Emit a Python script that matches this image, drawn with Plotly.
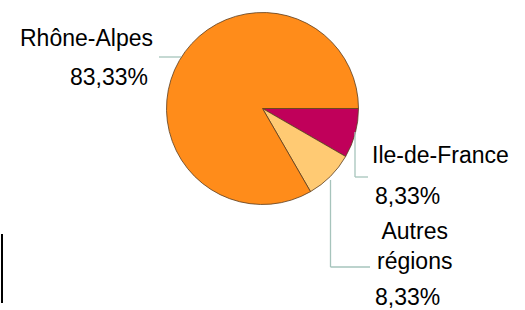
import plotly.graph_objects as go

# Data
regions = ["Ile-de-France", "Autres régions", "Rhône-Alpes"]
region_text = ["Ile-de-France", "Autres<br>régions", "Rhône-Alpes"]
shares = [1, 1, 10]
share_labels = ["8,33%", "8,33%", "83,33%"]
colors = ["#C0005A", "#FFCA73", "#FF8C1A"]

W, H = 525, 310
cx, cy, r = 262.5, 108.5, 96

def px(x):
    return x / W

def py(y):
    return 1 - y / H

fig = go.Figure(go.Pie(
    labels=regions,
    values=shares,
    sort=False,
    direction="clockwise",
    rotation=90,
    marker=dict(colors=colors, line=dict(color="#5a3c1e", width=0.8)),
    textinfo="none",
    hoverinfo="label+percent",
    showlegend=False,
    domain=dict(x=[px(cx - r), px(cx + r)], y=[py(cy + r), py(cy - r)]),
))

font = dict(family="Liberation Sans, Arial, sans-serif", size=23, color="black")

# label positions (pixel centres)
name_pos = [(440, 155), (414, 246), (86, 38)]
pct_pos = [(407, 196), (407, 297), (109, 77)]

ann = []
for i in range(len(regions)):
    ann.append(dict(x=px(name_pos[i][0]), y=py(name_pos[i][1]), xref="paper", yref="paper",
                    text=region_text[i], showarrow=False, font=font, borderpad=0,
                    xanchor="center", yanchor="middle", align="center"))
    ann.append(dict(x=px(pct_pos[i][0]), y=py(pct_pos[i][1]), xref="paper", yref="paper",
                    text=share_labels[i], showarrow=False, font=font, borderpad=0,
                    xanchor="center", yanchor="middle"))

lc = "#A6C4BC"
def seg(x0, y0, x1, y1, color=lc, width=1.3):
    return dict(type="line", xref="paper", yref="paper",
                x0=px(x0), y0=py(y0), x1=px(x1), y1=py(y1),
                line=dict(color=color, width=width))

shapes = [
    seg(159, 57, 181, 57),
    seg(355, 132, 355, 177),
    seg(355, 177, 368, 177),
    seg(330.5, 180, 330.5, 267),
    seg(330.5, 267, 370, 267),
    seg(2, 234, 2, 303, color="black", width=2),
]

fig.update_layout(
    width=W, height=H,
    margin=dict(l=0, r=0, t=0, b=0),
    paper_bgcolor="white",
    plot_bgcolor="white",
    annotations=ann,
    shapes=shapes,
)

fig.write_html("out.html", config={"displayModeBar": False},
               post_script="document.body.style.margin='0px';document.body.style.overflow='hidden';")
